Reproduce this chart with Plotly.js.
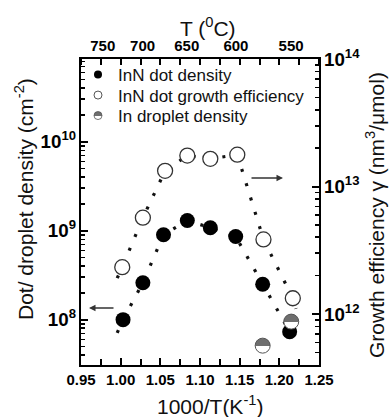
<!DOCTYPE html>
<html><head><meta charset="utf-8">
<script src="https://cdn.plot.ly/plotly-3.0.1.min.js"></script>
<style>html,body{margin:0;padding:0;background:#fff}#chart{width:389px;height:417px}</style>
</head><body><div id="chart"></div>
<script>
// ---- data ----
const dotX = [1.003, 1.028, 1.054, 1.084, 1.113, 1.145, 1.179, 1.213];
const dotDensity = [1.0e8, 2.6e8, 9.0e8, 1.3e9, 1.08e9, 8.6e8, 2.5e8, 7.3e7];
const effX = [1.002, 1.028, 1.056, 1.084, 1.113, 1.147, 1.180, 1.217];
const growthEff = [2.33e12, 5.7e12, 1.33e13, 1.75e13, 1.65e13, 1.78e13, 3.85e12, 1.33e12];
const dropletX = [1.179, 1.215];
const dropletDensity = [5.1e7, 9.5e7];
// ends of the dotted guide lines (they run a little past the first/last points)
const dotGuideEndsX = [0.9956, 1.221];
const dotGuideEndsY = [7.1e7, 5.5e7];
const effGuideEndsX = [0.9956, 1.221];
const effGuideEndsY = [1.91e12, 1.1e12];
// ticks
const tempLabels = [750, 700, 650, 600, 550];
const seriesNames = ['InN dot density', 'InN dot growth efficiency', 'In droplet density'];

const FONT = 'Liberation Sans';
const dropletTop = '#6e6e6e', dropletBottom = '#ffffff';

const guideLine = {color: '#111', width: 3.2, dash: '3px,12px'};
const data = [
  {x: [dotGuideEndsX[0], ...dotX, dotGuideEndsX[1]], y: [dotGuideEndsY[0], ...dotDensity, dotGuideEndsY[1]],
   mode: 'lines', line: guideLine, xaxis: 'x', yaxis: 'y', showlegend: false, hoverinfo: 'skip'},
  {x: [effGuideEndsX[0], ...effX, effGuideEndsX[1]], y: [effGuideEndsY[0], ...growthEff, effGuideEndsY[1]],
   mode: 'lines', line: guideLine, xaxis: 'x', yaxis: 'y2', showlegend: false, hoverinfo: 'skip'},
  {x: dotX, y: dotDensity, mode: 'markers', xaxis: 'x', yaxis: 'y', showlegend: false,
   marker: {symbol: 'circle', size: 15, color: '#000', line: {width: 0}}},
  {x: effX, y: growthEff, mode: 'markers', xaxis: 'x', yaxis: 'y2', showlegend: false,
   marker: {symbol: 'circle', size: 15, color: '#fff', line: {width: 1.3, color: '#333'}}},
  {x: dropletX, y: dropletDensity, mode: 'markers', xaxis: 'x', yaxis: 'y', showlegend: false,
   marker: {symbol: 'circle', size: 15, color: dropletTop, gradient: {type: 'vertical', color: dropletBottom},
            line: {width: 1, color: '#555'}}},
  // legend entries (small markers as in the reference); they also carry the top temperature axis
  {x: [null], y: [null], mode: 'markers', name: seriesNames[0], legend: 'legend', xaxis: 'x2', yaxis: 'y',
   marker: {symbol: 'circle', size: 8, color: '#000', line: {width: 0}}},
  {x: [null], y: [null], mode: 'markers', name: seriesNames[1], legend: 'legend2', xaxis: 'x2', yaxis: 'y',
   marker: {symbol: 'circle', size: 8, color: '#fff', line: {width: 1, color: '#555'}}},
  {x: [null], y: [null], mode: 'markers', name: seriesNames[2], legend: 'legend3', xaxis: 'x2', yaxis: 'y',
   marker: {symbol: 'circle', size: 8, color: dropletTop, gradient: {type: 'vertical', color: dropletBottom},
            line: {width: 0.8, color: '#555'}}}
];

const L = 81, R = 319, T = 59, B = 365;
const px2x = p => (p - L) / (R - L);
const py2y = p => (B - p) / (B - T);

const legendBase = {font: {family: FONT, size: 17, color: '#111'}, bgcolor: 'rgba(0,0,0,0)', borderwidth: 0,
  x: px2x(78), xanchor: 'left', yanchor: 'middle'};

const mkTickFont = () => ({family: FONT, size: 15, color: '#000', weight: 'bold'});
const titleFont = {family: FONT, size: 21, color: '#111'};

const layout = {
  width: 389, height: 417,
  margin: {l: L, r: 389 - R, t: T, b: 417 - B},
  font: {family: FONT, color: '#111'},
  xaxis: {range: [0.95, 1.25], tick0: 0.95, dtick: 0.05, tickformat: '.2f',
    ticks: 'inside', ticklen: 7, tickwidth: 2, tickcolor: '#000',
    showline: true, linewidth: 2, linecolor: '#000', showgrid: false, zeroline: false,
    tickfont: mkTickFont(),
    minor: {dtick: 0.025, ticks: 'inside', ticklen: 6, tickwidth: 2, tickcolor: '#000', showgrid: false}},
  xaxis2: {overlaying: 'x', side: 'top', anchor: 'y', range: [0.95, 1.25],
    tickvals: tempLabels.map(t => 1000 / (t + 273.15)), ticktext: tempLabels.map(String),
    ticks: '', showline: true, linewidth: 2, linecolor: '#000', showgrid: false, zeroline: false,
    tickfont: mkTickFont(),
    minor: {dtick: 0.025, tick0: 0.95, ticks: 'inside', ticklen: 6, tickwidth: 2, tickcolor: '#000', showgrid: false}},
  yaxis: {type: 'log', range: [7.49, 10.93], dtick: 1, exponentformat: 'power',
    ticks: 'inside', ticklen: 7, tickwidth: 2, tickcolor: '#000',
    showline: true, linewidth: 2, linecolor: '#000', showgrid: false, zeroline: false,
    tickfont: mkTickFont(),
    minor: {dtick: 'D1', ticks: 'inside', ticklen: 4, tickwidth: 1.6, tickcolor: '#000', showgrid: false}},
  yaxis2: {type: 'log', overlaying: 'y', side: 'right', anchor: 'x', range: [11.6, 14.001], dtick: 1, exponentformat: 'power',
    ticks: 'inside', ticklen: 7, tickwidth: 2, tickcolor: '#000',
    showline: true, linewidth: 2, linecolor: '#000', showgrid: false, zeroline: false,
    tickfont: mkTickFont(),
    minor: {dtick: 'D1', ticks: 'inside', ticklen: 4, tickwidth: 1.6, tickcolor: '#000', showgrid: false}},
  legend: Object.assign({}, legendBase, {y: py2y(75)}),
  legend2: Object.assign({}, legendBase, {y: py2y(95.5)}),
  legend3: Object.assign({}, legendBase, {y: py2y(116)}),
  showlegend: true,
  annotations: [
    {xref: 'paper', yref: 'paper', x: px2x(210), y: py2y(405), text: '1000/T(K<sup>-1</sup>)',
     showarrow: false, font: titleFont, xanchor: 'center', yanchor: 'middle'},
    {xref: 'paper', yref: 'paper', x: px2x(24), y: py2y(199), text: 'Dot/ droplet density (cm<sup>-2</sup>)',
     textangle: -90, showarrow: false, font: titleFont, xanchor: 'center', yanchor: 'middle'},
    {xref: 'paper', yref: 'paper', x: px2x(375), y: py2y(215), text: 'Growth efficiency γ (nm<sup>3</sup>/μmol)',
     textangle: -90, showarrow: false, font: titleFont, xanchor: 'center', yanchor: 'middle'},
    {xref: 'paper', yref: 'paper', x: px2x(208), y: py2y(27), text: 'T (<sup>0</sup>C)',
     showarrow: false, font: titleFont, xanchor: 'center', yanchor: 'middle'},
    // arrows pointing to the axes each series belongs to
    {xref: 'paper', yref: 'paper', x: px2x(89), y: py2y(308), text: '', showarrow: true, ax: 26, ay: 0,
     arrowhead: 2, arrowsize: 1, arrowwidth: 1.3, arrowcolor: '#333'},
    {xref: 'paper', yref: 'paper', x: px2x(283), y: py2y(178), text: '', showarrow: true, ax: -33, ay: 0,
     arrowhead: 2, arrowsize: 1, arrowwidth: 1.3, arrowcolor: '#333'}
  ]
};

const gd = document.getElementById('chart');
Plotly.newPlot(gd, data, layout, {staticPlot: true, displayModeBar: false}).then(() => {
  // make the vertical marker gradient a sharp half/half split (half-filled circles)
  gd.querySelectorAll('linearGradient').forEach(g => {
    g.setAttribute('x1', '0'); g.setAttribute('x2', '0'); g.setAttribute('y1', '0'); g.setAttribute('y2', '1');
    while (g.firstChild) g.removeChild(g.firstChild);
    [[0, dropletTop], [0.5, dropletTop], [0.5, dropletBottom], [1, dropletBottom]].forEach(([o, c]) => {
      const s = document.createElementNS('http://www.w3.org/2000/svg', 'stop');
      s.setAttribute('offset', o); s.setAttribute('stop-color', c); g.appendChild(s);
    });
  });
});
</script>
</body></html>
